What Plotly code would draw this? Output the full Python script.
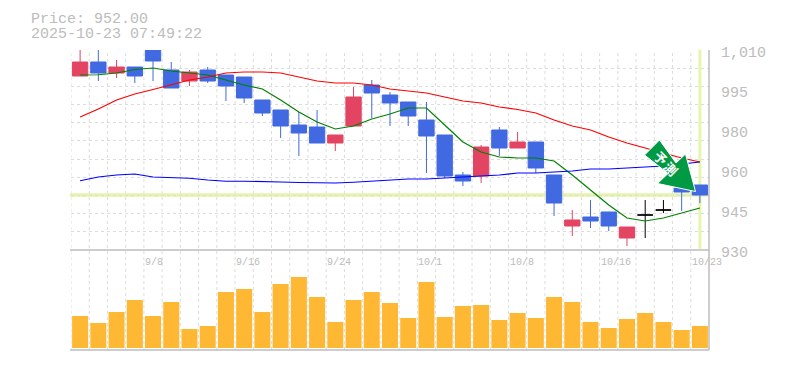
import plotly.graph_objects as go

dates = ["9/2","9/3","9/4","9/5","9/8","9/9","9/10","9/11","9/12","9/16","9/17","9/18","9/19","9/22","9/24","9/25","9/26","9/29","9/30","10/1","10/2","10/3","10/6","10/7","10/8","10/9","10/10","10/14","10/15","10/16","10/17","10/20","10/21","10/22","10/23"]
open_ = [999.6,1005.2,1000.8,1003.2,1012,1002,997.6,1002,1000,999.2,990,986,980,979.2,972.8,979.6,996,992,989.2,982,976,960,959.6,978,970.8,973.2,960,939.6,943.2,945.2,934.8,944,946,954.8,956]
high = [1012,1014,1006,1003.2,1014,1005.2,1002,1003.2,1000,999.2,990,986,985.2,986,976,995.2,998,993.2,989.2,989.2,976,961.2,972,979.2,977.2,973.2,960,946,950,945.2,939.2,950,950,954.8,956]
low = [999.6,997.6,998.8,996.8,997.6,994.8,995.6,996.8,989.6,988.8,983.6,974.8,967.6,972.8,969.6,979.6,982.8,979.6,979.6,960.8,958.8,955.6,956.8,967.6,970.8,960.8,943.6,935.6,938.8,937.6,931.6,934.8,944.8,945.6,948.8]
close = [1005.2,1000.8,1003.2,999.6,1005.6,994.8,1001.2,997.6,995.6,990.8,984.8,979.6,976.8,972.8,976,991.2,992.8,988.8,983.6,975.6,959.6,957.6,971.2,970.8,973.2,962.8,948.8,942,941.6,939.6,939.2,944,946,953.2,952]
ma_short = [1000,1000.1,1000.8,1002.2,1002.8,1001.6,1000.8,1000,998,996,994.4,990,985.2,981.2,978.4,979.6,982.4,984.4,986.8,986.8,980,973.2,969.2,967.2,966.8,966.8,965.6,960,954,948,942.8,941.6,942.8,944.8,946.8]
ma_mid = [983.2,986.4,990,992.4,994.2,996,998,999.2,1000.8,1001.2,1001.2,1000.8,999.2,997.6,996.8,996.8,996,994.4,993.6,992.8,991.2,989.6,988.8,987.2,986.2,984.8,982,979.6,978,975.2,972.8,970.8,968.8,966.8,965.2]
ma_long = [957.7,959.2,960,960.4,959.2,959.1,958.7,958,957.5,957.5,957.5,957.2,957,956.8,956.8,957.1,957.6,958,958.4,958.4,958.8,959.2,959.6,960,960.8,960.8,961.2,961.6,962.4,962.4,962.8,963.2,963.6,964.4,965.2]
volume = [32,25,36,48,32,46,19,22,56,59,36,64,71,51,26,48,56,45,30,66,31,42,43,28,35,30,51,46,26,20,29,35,26,18,22]
last_price = 952
price_ticks = [1010,994,978,962,946,930]
price_labels = ["1,010","995","980","960","945","930"]
date_labels = ["9/8","9/16","9/24","10/1","10/8","10/16","10/23"]

GRAY = "#bcbcbc"
GRID = "#dcdcdc"
LIME = "#e6f5a9"
UP = "#e24462"
DOWN = "#4169e1"
FONT = "Liberation Mono"
W, H = 785, 370
L, R, T, B = 71, 709.5, 50, 350
SPLIT = 250

def px(x):
    return (x - L) / (R - L)
def py(y):
    return (B - y) / (B - T)
def price_to_py(p):
    return py(T + (1010 - p) * (SPLIT - T) / 80)

fig = go.Figure()
for vals, col in [(ma_short, "#008000"), (ma_mid, "#ff0000"), (ma_long, "#0000ff")]:
    fig.add_trace(go.Scatter(x=dates, y=vals, mode="lines", line=dict(color=col, width=1.2), showlegend=False))

doji = [i for i in range(len(dates)) if open_[i] == close[i] or dates[i] in ("10/20", "10/21")]
main = [i for i in range(len(dates)) if i not in doji]
def pick(a, idx):
    return [a[i] for i in idx]
fig.add_trace(go.Candlestick(x=pick(dates, main), open=pick(open_, main), high=pick(high, main), low=pick(low, main), close=pick(close, main),
    increasing=dict(line=dict(color=UP, width=1), fillcolor=UP), decreasing=dict(line=dict(color=DOWN, width=1), fillcolor=DOWN),
    whiskerwidth=0, showlegend=False))
fig.add_trace(go.Candlestick(x=pick(dates, doji), open=pick(open_, doji), high=pick(high, doji), low=pick(low, doji), close=pick(close, doji),
    increasing=dict(line=dict(color="#000000", width=1), fillcolor="#000000"), decreasing=dict(line=dict(color="#000000", width=1), fillcolor="#000000"),
    whiskerwidth=0, showlegend=False))
fig.add_trace(go.Bar(x=dates, y=volume, yaxis="y2", marker=dict(color="#ffb833", line=dict(width=0)), width=0.88, showlegend=False))

shapes = []
for i in range(len(dates)):
    g = i - 0.5
    shapes.append(dict(type="line", xref="x", yref="paper", x0=g, x1=g, y0=0, y1=1, layer="below", line=dict(color=GRID, width=1, dash="3px,3px")))
shapes.append(dict(type="line", xref="paper", yref="y", x0=px(70), x1=1, y0=last_price, y1=last_price, layer="below", line=dict(color=LIME, width=3.5)))
shapes.append(dict(type="line", xref="x", yref="y", x0=len(dates)-1, x1=len(dates)-1, y0=930.5, y1=1010, layer="below", line=dict(color=LIME, width=3)))
shapes.append(dict(type="line", xref="paper", yref="paper", x0=px(70), x1=1, y0=0, y1=0, line=dict(color=GRAY, width=1.5)))
shapes.append(dict(type="line", xref="paper", yref="paper", x0=px(70), x1=1, y0=py(SPLIT), y1=py(SPLIT), line=dict(color=GRAY, width=1.5)))
shapes.append(dict(type="line", xref="paper", yref="paper", x0=1, x1=1, y0=0, y1=1, line=dict(color=GRAY, width=1.5)))
arrow_px = [(660, 140), (645, 155), (668.5, 173.5), (658, 183.5), (696, 191.5), (686, 154), (676.5, 163)]
path = "M " + " L ".join(f"{px(x):.5f} {py(y):.5f}" for x, y in arrow_px) + " Z"
shapes.append(dict(type="path", xref="paper", yref="paper", path=path, fillcolor="#009944", line=dict(color="#ffffff", width=1)))

ann = []
for text, yy in [("Price: 952.00", 18.5), ("2025-10-23 07:49:22", 33.5)]:
    ann.append(dict(text=text, xref="paper", yref="paper", x=px(29), y=py(yy), height=14, xanchor="left", yanchor="middle", showarrow=False, font=dict(family=FONT, size=15, color=GRAY)))
for v, lab in zip(price_ticks, price_labels):
    ann.append(dict(text=lab, xref="paper", yref="paper", x=px(720), y=price_to_py(v - 1.2), xanchor="left", yanchor="middle", showarrow=False, font=dict(family=FONT, size=15, color=GRAY)))
for d in date_labels:
    ann.append(dict(text=d, xref="x", yref="paper", x=dates.index(d) - 0.55, y=py(262), xanchor="left", yanchor="middle", showarrow=False, font=dict(family=FONT, size=10, color=GRAY)))
for text, x, y in [("予", 661.5, 157), ("測", 671.5, 168)]:
    ann.append(dict(text=text, xref="paper", yref="paper", x=px(x), y=py(y), xanchor="center", yanchor="middle", textangle=45, showarrow=False, font=dict(family="Noto Sans CJK JP", size=13, color="#ffffff", weight=700)))

fig.update_layout(
    width=W, height=H, margin=dict(l=L, r=W - R, t=T, b=H - B, pad=0),
    paper_bgcolor="#ffffff", plot_bgcolor="#ffffff", showlegend=False, boxgap=0.16, boxgroupgap=0, boxmode="overlay", bargap=0.12,
    shapes=shapes, annotations=ann,
    xaxis=dict(type="category", categoryorder="array", categoryarray=dates, range=[-0.5, len(dates)-0.5], showgrid=False, showticklabels=False, ticks="", zeroline=False, rangeslider=dict(visible=False), anchor="y2"),
    yaxis=dict(domain=[py(SPLIT), 1], range=[930, 1010], tickvals=[1010 - i * 80 / 11 for i in range(12)], showgrid=True, griddash="3px,3px", gridcolor=GRID, gridwidth=1, showticklabels=False, ticks="", zeroline=False),
    yaxis2=dict(domain=[0, py(SPLIT)], range=[-2, 98], showgrid=False, showticklabels=False, ticks="", zeroline=False),
)
fig.write_html("out.html", post_script="document.body.style.margin='0';", config={"displayModeBar": False})
